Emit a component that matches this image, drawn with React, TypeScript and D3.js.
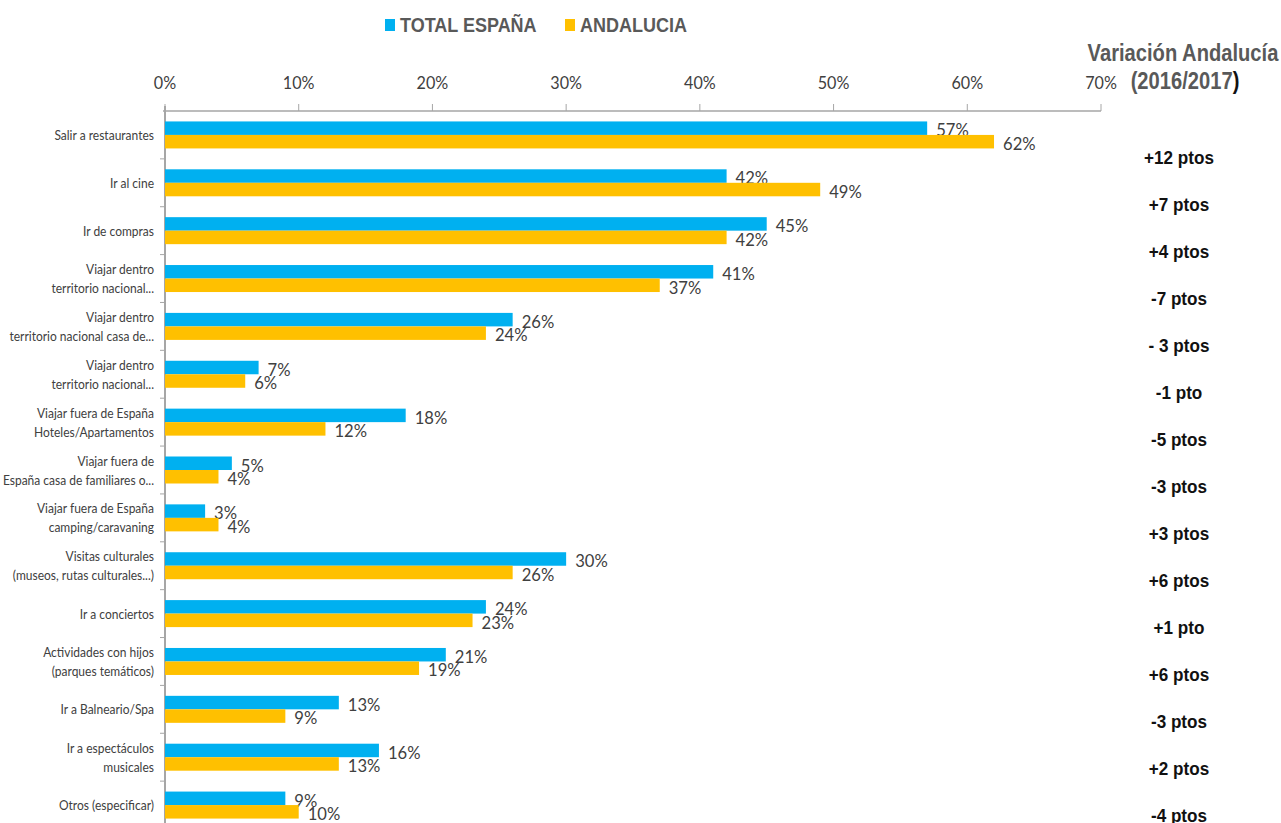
import React from "react";
import * as d3 from "d3";

const categories: string[][] = [
  ["Salir a restaurantes"],
  ["Ir al cine"],
  ["Ir de compras"],
  ["Viajar dentro", "territorio nacional..."],
  ["Viajar dentro", "territorio nacional casa de..."],
  ["Viajar dentro", "territorio nacional..."],
  ["Viajar fuera de España", "Hoteles/Apartamentos"],
  ["Viajar fuera de", "España casa de familiares o..."],
  ["Viajar fuera de España", "camping/caravaning"],
  ["Visitas culturales", "(museos, rutas culturales...)"],
  ["Ir a conciertos"],
  ["Actividades con hijos", "(parques temáticos)"],
  ["Ir a Balneario/Spa"],
  ["Ir a espectáculos", "musicales"],
  ["Otros (especificar)"],
];
const totalEspana = [57, 42, 45, 41, 26, 7, 18, 5, 3, 30, 24, 21, 13, 16, 9];
const andalucia = [62, 49, 42, 37, 24, 6, 12, 4, 4, 26, 23, 19, 9, 13, 10];
const variacion = [
  "+12 ptos", "+7 ptos", "+4 ptos", "-7 ptos", "- 3 ptos", "-1 pto", "-5 ptos",
  "-3 ptos", "+3 ptos", "+6 ptos", "+1 pto", "+6 ptos", "-3 ptos", "+2 ptos", "-4 ptos",
];
const xTicks = [0, 10, 20, 30, 40, 50, 60, 70];
const seriesNames = ["TOTAL ESPAÑA", "ANDALUCIA"];
const seriesColors = ["#00B0F0", "#FFC000"];

const W = 1281;
const H = 823;

export default function App() {
  const x = d3.scaleLinear().domain([0, 70]).range([165, 1101]);
  const idx = categories.map((_, i) => String(i));
  const y = d3.scaleBand().domain(idx).range([111, 829]);
  const bw = y.bandwidth();
  const inner = d3
    .scaleBand()
    .domain(["t", "a"])
    .range([0, bw])
    .paddingInner(0)
    .paddingOuter(0.773);
  const vy = d3.scalePoint().domain(idx).range([157, 815]);
  const series = [totalEspana, andalucia];
  const keys = ["t", "a"];
  const labelFont = "Lato, 'Open Sans', sans-serif";
  const sans = "'Liberation Sans', Arial, sans-serif";

  return (
    <svg
      width={W}
      height={H}
      style={{ position: "absolute", left: 0, top: 0, background: "#fff" }}
    >
      {/* legend */}
      {seriesNames.map((n, i) => {
        const lx = i === 0 ? 385 : 565;
        return (
          <g key={n}>
            <rect x={lx} y={19} width={10} height={12} fill={seriesColors[i]} />
            <text
              transform={`translate(${lx + 15},32) scale(0.9,1)`}
              fontFamily={sans}
              fontWeight="bold"
              fontSize={20}
              fill="#595959"
            >
              {n}
            </text>
          </g>
        );
      })}

      {/* right header */}
      <text
        transform="translate(1183,61) scale(0.84,1)"
        textAnchor="middle"
        fontFamily={sans}
        fontWeight="bold"
        fontSize={24}
        fill="#595959"
      >
        Variación Andalucía
      </text>
      <text
        transform="translate(1185,89) scale(0.84,1)"
        textAnchor="middle"
        fontFamily={sans}
        fontWeight="bold"
        fontSize={24}
        fill="#595959"
      >
        (2016/2017<tspan fill="#111">)</tspan>
      </text>

      {/* top axis */}
      <line x1={163} x2={x(70)} y1={111} y2={111} stroke="#a6a6a6" strokeWidth={1.5} />
      {xTicks.map((t) => (
        <g key={t}>
          <line x1={x(t)} x2={x(t)} y1={104} y2={111} stroke="#a6a6a6" strokeWidth={1} />
          <text
            transform={`translate(${x(t)},89) scale(0.95,1)`}
            textAnchor="middle"
            fontFamily={labelFont}
            fontSize={17}
            fill="#404040"
          >
            {t}%
          </text>
        </g>
      ))}

      {/* left axis */}
      <line x1={165} x2={165} y1={106} y2={829} stroke="#a6a6a6" strokeWidth={2} />
      {idx.map((k) => (
        <line key={k} x1={160} x2={165} y1={(y(k) as number) + bw} y2={(y(k) as number) + bw} stroke="#a6a6a6" strokeWidth={1} />
      ))}

      {/* bars */}
      {categories.map((c, i) => {
        const by = y(String(i)) as number;
        return (
          <g key={i}>
            {series.map((s, j) => {
              const yy = by + (inner(keys[j]) as number);
              const h = inner.bandwidth();
              return (
                <g key={j}>
                  <rect x={x(0)} y={yy} width={x(s[i]) - x(0)} height={h} fill={seriesColors[j]} />
                  <text
                    transform={`translate(${x(s[i]) + 9},${yy + h + 1.5}) scale(0.95,1)`}
                    fontFamily={labelFont}
                    fontSize={17.5}
                    fill="#404040"
                  >
                    {s[i]}%
                  </text>
                </g>
              );
            })}
            {/* category label */}
            {c.map((line, li) => (
              <text
                key={li}
                transform={`translate(154,${by + bw / 2 + 5 + (li - (c.length - 1) / 2) * 19}) scale(0.89,1)`}
                textAnchor="end"
                fontFamily={labelFont}
                fontSize={13.5}
                fill="#404040"
              >
                {line}
              </text>
            ))}
            {/* variation */}
            <text
              transform={`translate(1179,${(vy(String(i)) as number) + 6.5}) scale(0.9,1)`}
              textAnchor="middle"
              fontFamily={sans}
              fontWeight="bold"
              fontSize={19}
              fill="#111"
            >
              {variacion[i]}
            </text>
          </g>
        );
      })}
    </svg>
  );
}
